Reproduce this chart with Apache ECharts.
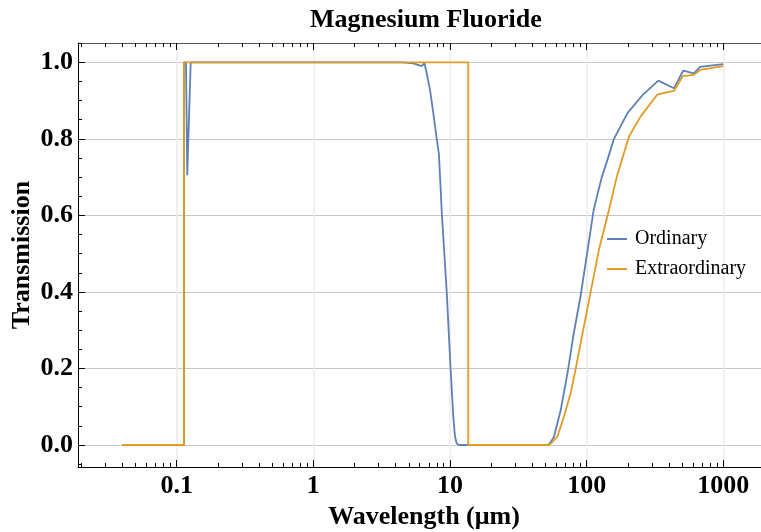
<!DOCTYPE html>
<html>
<head>
<meta charset="utf-8">
<title>Magnesium Fluoride</title>
<script src="https://cdn.jsdelivr.net/npm/echarts@6/dist/echarts.min.js"></script>
<style>
  html, body { margin: 0; padding: 0; background: #ffffff; }
  #chart { width: 761px; height: 532px; }
</style>
</head>
<body>
<div id="chart"></div>
<script>
// Transmission of MgF2 versus wavelength (µm), ordinary and extraordinary rays
const ORDINARY_WL = [0.04, 0.113, 0.113, 0.117, 0.1195, 0.1266, 4.5, 5.39, 6.21, 6.38, 6.49, 6.75, 7.14, 7.55, 8.0, 8.3, 8.7, 9.46, 10.1, 10.57, 10.88, 11.2, 11.7,
  52.7, 57.5, 64.5, 72.6, 80.3, 90.4, 101.7, 112.5, 129, 142, 158.5, 199, 256, 335, 435, 509, 609, 675, 1000];
const ORDINARY_T = [0, 0, 1.0, 1.0, 0.705, 1.0, 1.0, 0.997, 0.99, 0.985, 0.998, 0.972, 0.928, 0.867, 0.80, 0.76, 0.61, 0.40, 0.20, 0.074, 0.022, 0.004, 0,
  0, 0.02, 0.09, 0.19, 0.29, 0.39, 0.51, 0.614, 0.70, 0.745, 0.80, 0.867, 0.914, 0.952, 0.932, 0.978, 0.971, 0.988, 0.995];

const EXTRA_WL = [0.04, 0.113, 0.113, 13.6, 13.6, 53.5, 61.1, 68.2, 76.4, 83.2, 95.5, 107, 123, 145.6, 166, 204, 248, 329, 435, 506, 609, 675, 1000];
const EXTRA_T = [0, 0, 1.0, 1.0, 0, 0, 0.022, 0.074, 0.135, 0.2, 0.31, 0.4, 0.51, 0.614, 0.70, 0.806, 0.858, 0.916, 0.925, 0.964, 0.967, 0.980, 0.990];

const SERIES_NAMES = ['Ordinary', 'Extraordinary'];
const SERIES_COLORS = ['#5e81b5', '#e19c24'];

// Axis ticks and labels (wavelength ticks in µm)
const X_TICKS = [0.1, 1, 10, 100, 1000];
const X_TICK_LABELS = ['0.1', '1', '10', '100', '1000'];
const Y_TICKS = [0, 0.2, 0.4, 0.6, 0.8, 1.0];
const Y_TICK_LABELS = ['0.0', '0.2', '0.4', '0.6', '0.8', '1.0'];
const Y_MINOR_TICKS = [-0.05, 0.05, 0.1, 0.15, 0.25, 0.3, 0.35, 0.45, 0.5, 0.55, 0.65, 0.7, 0.75, 0.85, 0.9, 0.95, 1.05];

// Axis ranges
const X_MIN = 0.018955, X_MAX = 2197;
const Y_MIN = -0.0575, Y_MAX = 1.0504;

// The wavelength axis is logarithmic: positions are log10(µm) on a value axis
const lg = Math.log10;

// Log-style minor ticks: 2..9 times each decade
const X_MINOR_TICKS = [];
for (let e = -2; e <= 3; e++) {
  for (let k = 2; k <= 9; k++) {
    const v = k * Math.pow(10, e);
    if (v > X_MIN && v < X_MAX) X_MINOR_TICKS.push(v);
  }
}

const pairs = (xs, ys) => xs.map((x, i) => [lg(x), ys[i]]);

const FONT = 'Liberation Serif';
const boldText = { fontFamily: FONT, fontWeight: 'bold', fontSize: 26, color: '#000' };

function xAxisDef(position, ticks, len, extra) {
  return Object.assign({
    type: 'value', min: lg(X_MIN), max: lg(X_MAX), position: position,
    axisLine: { show: false, onZero: false },
    axisTick: { show: true, inside: true, length: len, customValues: ticks.map(lg), lineStyle: { color: '#000', width: 1 } },
    axisLabel: { show: false },
    splitLine: { show: false }
  }, extra || {});
}
function yAxisDef(position, ticks, len, extra) {
  return Object.assign({
    type: 'value', min: Y_MIN, max: Y_MAX, position: position,
    axisLine: { show: false, onZero: false },
    axisTick: { show: true, inside: true, length: len, customValues: ticks, lineStyle: { color: '#000', width: 1 } },
    axisLabel: { show: false },
    splitLine: { show: false }
  }, extra || {});
}

const chart = echarts.init(document.getElementById('chart'), null, { renderer: 'canvas' });

chart.setOption({
  animation: false,
  backgroundColor: '#ffffff',
  title: {
    text: 'Magnesium Fluoride',
    left: 305, top: 2,
    textStyle: { fontFamily: FONT, fontWeight: 'bold', fontSize: 26, color: '#000' }
  },
  legend: {
    data: SERIES_NAMES,
    orient: 'vertical',
    left: 602, top: 224,
    icon: 'rect',
    itemWidth: 20, itemHeight: 2, itemGap: 10,
    textStyle: { fontFamily: FONT, fontSize: 20, color: '#000', padding: [0, 0, 0, 3] }
  },
  grid: { left: 78, top: 43, width: 692, height: 424, containLabel: false, outerBoundsMode: 'none' },
  xAxis: [
    xAxisDef('bottom', X_TICKS, 7, {
      axisLine: { show: true, onZero: false, lineStyle: { color: '#000', width: 1 } },
      axisLabel: {
        show: true, margin: 6, customValues: X_TICKS.map(lg),
        formatter: v => { const i = X_TICKS.findIndex(t => Math.abs(lg(t) - v) < 1e-6); return i >= 0 ? X_TICK_LABELS[i] : ''; },
        fontFamily: FONT, fontWeight: 'bold', fontSize: 26, color: '#000'
      },
      splitLine: { show: true, lineStyle: { color: '#ebebeb', width: 1.5 } },
      name: 'Wavelength (μm)', nameLocation: 'middle', nameGap: 30,
      nameTextStyle: boldText
    }),
    xAxisDef('bottom', X_MINOR_TICKS, 4),
    xAxisDef('top', X_TICKS, 7, {
      axisLine: { show: true, onZero: false, lineStyle: { color: '#555', width: 1 } }
    }),
    xAxisDef('top', X_MINOR_TICKS, 4)
  ],
  yAxis: [
    yAxisDef('left', Y_TICKS, 7, {
      axisLine: { show: true, onZero: false, lineStyle: { color: '#000', width: 1 } },
      axisLabel: {
        show: true, margin: 5, customValues: Y_TICKS,
        formatter: v => { const i = Y_TICKS.findIndex(t => Math.abs(t - v) < 1e-6); return i >= 0 ? Y_TICK_LABELS[i] : ''; },
        fontFamily: FONT, fontWeight: 'bold', fontSize: 26, color: '#000'
      },
      splitLine: { show: true, lineStyle: { color: '#c8c8c8', width: 1 } },
      name: 'Transmission', nameLocation: 'middle', nameGap: 43, nameRotate: 90,
      nameMoveOverlap: false,
      nameTextStyle: boldText
    }),
    yAxisDef('left', Y_MINOR_TICKS, 4)
  ],
  series: [
    {
      name: SERIES_NAMES[0], type: 'line', xAxisIndex: 0, yAxisIndex: 0,
      data: pairs(ORDINARY_WL, ORDINARY_T),
      symbol: 'none', smooth: false, clip: true,
      lineStyle: { color: SERIES_COLORS[0], width: 1.8 },
      itemStyle: { color: SERIES_COLORS[0] }
    },
    {
      name: SERIES_NAMES[1], type: 'line', xAxisIndex: 0, yAxisIndex: 0,
      data: pairs(EXTRA_WL, EXTRA_T),
      symbol: 'none', smooth: false, clip: true,
      lineStyle: { color: SERIES_COLORS[1], width: 1.8 },
      itemStyle: { color: SERIES_COLORS[1] }
    }
  ]
});
</script>
</body>
</html>
